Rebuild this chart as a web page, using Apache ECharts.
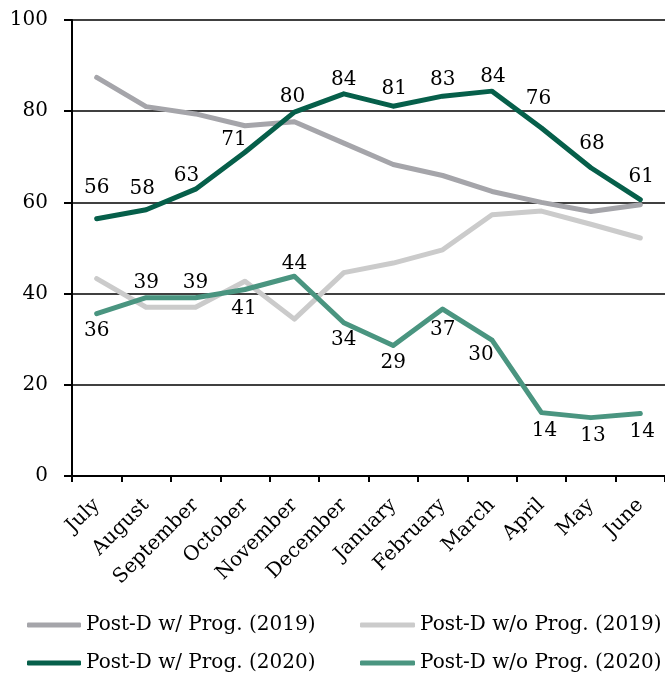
<!DOCTYPE html>
<html>
<head>
<meta charset="utf-8">
<script src="https://cdn.jsdelivr.net/npm/echarts@6/dist/echarts.min.js"></script>
<style>
  html, body { margin: 0; padding: 0; background: #fff; }
  #chart { width: 665px; height: 675px; }
</style>
</head>
<body>
<div id="chart"></div>
<script>
// 数据
var months = ['July', 'August', 'September', 'October', 'November', 'December',
  'January', 'February', 'March', 'April', 'May', 'June'];
var yTicks = [0, 20, 40, 60, 80, 100];
var withProg2019 = [87.4, 81.0, 79.4, 76.8, 77.7, 73.0, 68.3, 65.9, 62.4, 60.0, 58.0, 59.5];
var withoutProg2019 = [43.3, 37.0, 37.0, 42.7, 34.4, 44.6, 46.7, 49.6, 57.3, 58.1, 55.2, 52.2];
var withProg2020 = [56.4, 58.4, 62.9, 71.0, 79.8, 83.8, 81.1, 83.3, 84.4, 76.3, 67.6, 60.6];
var withoutProg2020 = [35.6, 39.1, 39.1, 40.9, 43.8, 33.6, 28.6, 36.6, 29.8, 13.9, 12.8, 13.7];

// 标签偏移（样式）
var offsGreen = [[0, -31], [-4, -21], [-9, -13], [-11, -12], [-2, -15], [0, -14],
  [1, -17], [0, -16], [1, -14], [-3, -29], [1, -24], [1, -23]];
var offsTeal = [[0, 17], [0, -15], [0, -15], [-1, 19], [0, -12], [0, 17],
  [0, 17], [0, 21], [-11, 15], [3, 18], [2, 18], [2, 18]];

var serif = 'DejaVu Serif';
var chart = echarts.init(document.getElementById('chart'));

function labelled(values, offs) {
  return values.map(function (v, i) {
    return {
      value: v,
      label: { show: true, position: 'inside', offset: offs[i] }
    };
  });
}

function lineSeries(name, color, data) {
  return {
    name: name,
    type: 'line',
    data: data,
    symbol: 'circle',
    symbolSize: 4,
    showSymbol: true,
    itemStyle: { color: color },
    lineStyle: { color: color, width: 5, cap: 'round', join: 'round' },
    label: {
      show: false,
      color: '#000',
      fontFamily: serif,
      fontSize: 20,
      formatter: function (p) { return Math.round(p.value); }
    },
    emphasis: { disabled: true },
    animation: false
  };
}

var legendText = { color: '#000', fontFamily: serif, fontSize: 20, lineHeight: 24 };

var option = {
  backgroundColor: '#fff',
  textStyle: { fontFamily: serif },
  grid: { left: 72, right: 0, top: 20, bottom: 199, containLabel: false },
  legend: [
    {
      data: ['Post-D w/ Prog. (2019)', 'Post-D w/ Prog. (2020)'],
      orient: 'vertical', left: 22, top: 608, itemGap: 14, height: 64,
      icon: 'roundRect', itemWidth: 54, itemHeight: 5,
      textStyle: legendText, selectedMode: false
    },
    {
      data: ['Post-D w/o Prog. (2019)', 'Post-D w/o Prog. (2020)'],
      orient: 'vertical', left: 355, top: 608, itemGap: 14, height: 64,
      icon: 'roundRect', itemWidth: 55, itemHeight: 5,
      textStyle: legendText, selectedMode: false
    }
  ],
  xAxis: {
    type: 'category',
    data: months,
    boundaryGap: true,
    axisLine: { lineStyle: { color: '#000', width: 2 } },
    axisTick: { show: true, interval: 0, length: 6, alignWithLabel: false,
      lineStyle: { color: '#000', width: 2 } },
    axisLabel: { interval: 0, rotate: 45, margin: 26, color: '#000',
      fontFamily: serif, fontSize: 20 },
    splitLine: { show: false }
  },
  yAxis: {
    type: 'value',
    min: yTicks[0],
    max: yTicks[yTicks.length - 1],
    interval: 20,
    axisLine: { show: true, lineStyle: { color: '#000', width: 2 } },
    axisTick: { show: true, length: 8, lineStyle: { color: '#000', width: 2 } },
    axisLabel: { margin: 24, color: '#000', fontFamily: serif, fontSize: 20 },
    splitLine: { show: true, lineStyle: { color: '#000', width: 1.5 } }
  },
  series: [
    lineSeries('Post-D w/ Prog. (2019)', '#a5a5aa', withProg2019),
    lineSeries('Post-D w/o Prog. (2019)', '#cbcbcb', withoutProg2019),
    lineSeries('Post-D w/o Prog. (2020)', '#4a9580', labelled(withoutProg2020, offsTeal)),
    lineSeries('Post-D w/ Prog. (2020)', '#065f4a', labelled(withProg2020, offsGreen))
  ]
};

chart.setOption(option);
</script>
</body>
</html>
